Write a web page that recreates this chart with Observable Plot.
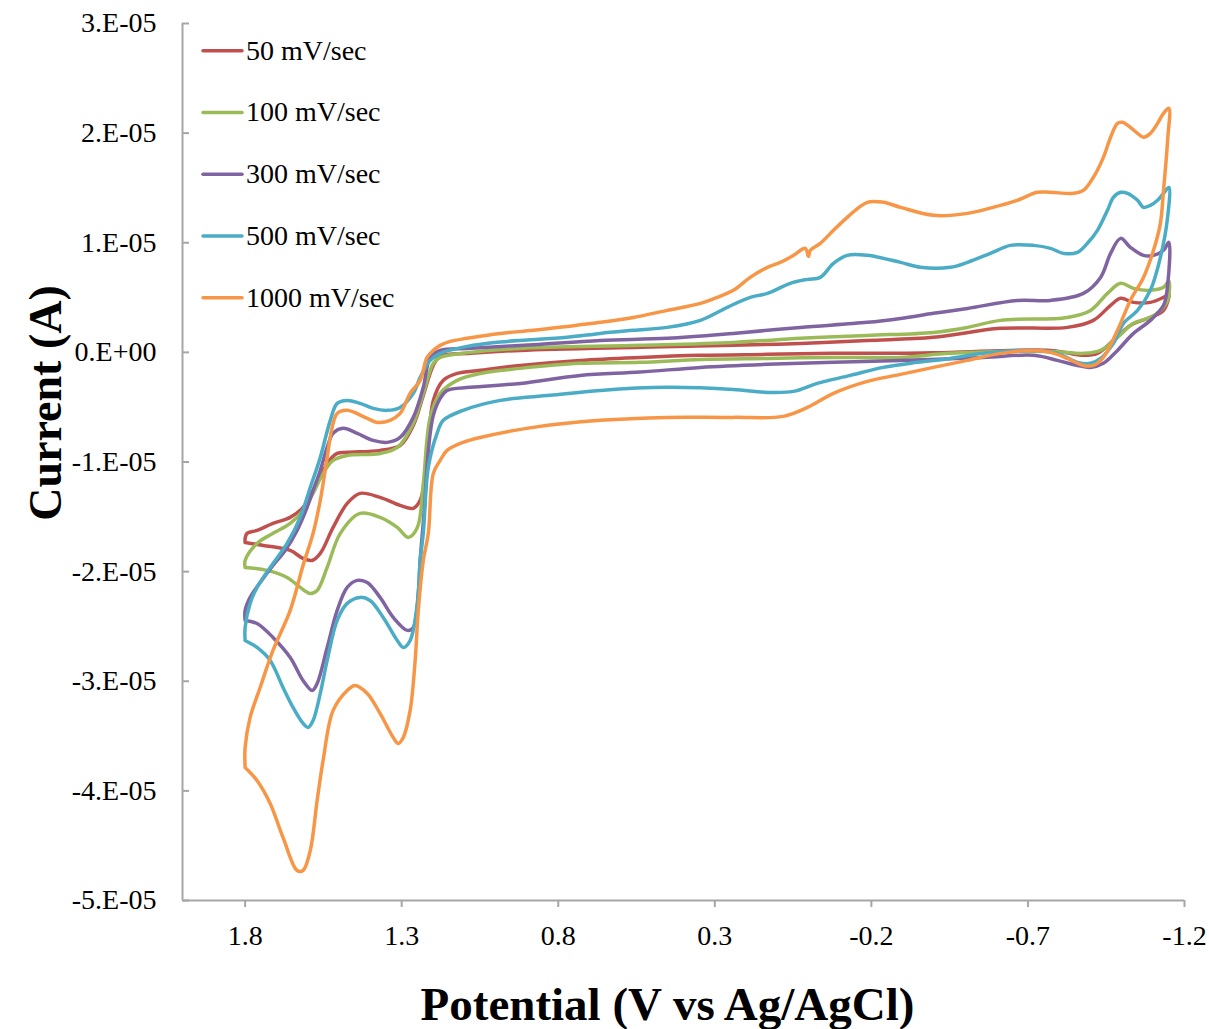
<!DOCTYPE html>
<html>
<head>
<meta charset="utf-8">
<script src="https://cdn.jsdelivr.net/npm/d3@7"></script>
<script src="https://cdn.jsdelivr.net/npm/@observablehq/plot@0.6"></script>
<style>
  body { margin: 0; background: #fff; }
  #chart svg { display: block; }
</style>
</head>
<body>
<div id="chart"></div>
<script>
// ---- Data (potential in V vs Ag/AgCl, current in µA; axis labels in A) ----
const seriesNames = ["50 mV/sec", "100 mV/sec", "300 mV/sec", "500 mV/sec", "1000 mV/sec"];
const seriesColors = ["#c0504d", "#9bbb59", "#8064a2", "#4bacc6", "#f79646"];

const xTicks = [1.8, 1.3, 0.8, 0.3, -0.2, -0.7, -1.2];
const xTickLabels = ["1.8", "1.3", "0.8", "0.3", "-0.2", "-0.7", "-1.2"];
const yTicks = [30, 20, 10, 0, -10, -20, -30, -40, -50];
const yTickLabels = ["3.E-05", "2.E-05", "1.E-05", "0.E+00", "-1.E-05", "-2.E-05", "-3.E-05", "-4.E-05", "-5.E-05"];
const xDomain = [2.0, -1.2];
const yDomain = [-50, 30];

// [potential V, current µA]
const cv50 = [
  [1.80,-17.34],[1.742,-17.61],[1.656,-18.07],[1.615,-18.80],[1.586,-18.98],[1.560,-18.34],[1.519,-15.97],
  [1.474,-13.78],[1.433,-12.86],[1.369,-13.23],[1.305,-13.96],[1.263,-14.23],[1.241,-13.50],[1.219,-9.85],
  [1.199,-4.38],[1.167,-2.55],[1.123,-1.92],[1.049,-1.64],[0.921,-1.19],[0.730,-0.73],[0.538,-0.46],
  [0.346,-0.27],[0.132,-0.18],[-0.079,-0.09],[-0.293,-0.09],[-0.452,0],[-0.772,0.18],[-0.877,-0.27],
  [-0.922,-0.09],[-0.973,1.09],[-1.027,2.46],[-1.091,3.19],[-1.133,3.83],[-1.15,5.3],
  [-1.133,5.02],[-1.091,4.56],[-1.037,4.56],[-0.996,4.93],[-0.964,4.29],[-0.909,2.92],[-0.826,2.28],
  [-0.612,2.19],[-0.398,1.37],[-0.187,1.09],[0.027,0.82],[0.241,0.64],[0.538,0.46],[0.921,0.18],
  [1.081,-0.09],[1.177,-0.36],[1.199,-1.19],[1.231,-3.92],[1.263,-6.66],[1.305,-8.49],[1.369,-8.94],
  [1.474,-9.12],[1.506,-9.22],[1.538,-10.13],[1.560,-11.41],[1.583,-12.59],[1.615,-14.14],[1.656,-15.05],
  [1.711,-15.60],[1.762,-16.24],[1.794,-16.51],[1.80,-16.97],[1.80,-17.34]
];
const cv100 = [
  [1.80,-19.62],[1.730,-19.89],[1.666,-20.53],[1.624,-21.44],[1.592,-21.99],[1.570,-21.72],[1.538,-19.62],
  [1.496,-16.51],[1.433,-14.69],[1.369,-15.05],[1.314,-15.97],[1.279,-16.88],[1.250,-15.97],[1.231,-11.95],
  [1.209,-5.93],[1.177,-3.74],[1.123,-2.55],[1.049,-1.92],[0.921,-1.46],[0.730,-1.00],[0.538,-0.91],
  [0.346,-0.64],[0.132,-0.55],[-0.079,-0.46],[-0.293,-0.46],[-0.452,-0.09],[-0.772,0.09],[-0.877,-0.09],
  [-0.932,0.18],[-0.986,1.37],[-1.037,2.65],[-1.091,3.19],[-1.123,3.83],[-1.146,4.74],[-1.15,6.5],
  [-1.133,5.93],[-1.091,5.66],[-1.037,5.84],[-0.996,6.30],[-0.954,5.38],[-0.900,3.83],[-0.826,3.19],
  [-0.612,2.92],[-0.507,2.28],[-0.398,1.82],[-0.187,1.55],[0.027,1.28],[0.241,0.91],[0.538,0.64],
  [0.921,0.36],[1.081,0],[1.177,-0.46],[1.199,-1.00],[1.231,-3.74],[1.263,-6.48],[1.314,-8.67],
  [1.369,-9.22],[1.474,-9.40],[1.519,-9.85],[1.551,-11.04],[1.583,-12.86],[1.615,-14.42],[1.656,-15.60],
  [1.711,-16.51],[1.762,-17.43],[1.80,-18.98],[1.80,-19.62]
];
const cv300 = [
  [1.80,-24.45],[1.762,-24.73],[1.711,-26.00],[1.656,-27.83],[1.615,-29.93],[1.586,-30.84],[1.570,-30.20],
  [1.538,-26.92],[1.506,-23.54],[1.474,-21.44],[1.442,-20.80],[1.410,-20.99],[1.369,-22.35],[1.327,-24.18],
  [1.282,-25.36],[1.263,-25.09],[1.247,-21.99],[1.241,-18.98],[1.228,-14.42],[1.215,-8.94],[1.199,-5.75],
  [1.177,-4.20],[1.155,-3.47],[1.081,-3.19],[0.921,-2.83],[0.730,-2.10],[0.538,-1.80],[0.346,-1.37],
  [0.132,-1.09],[-0.079,-0.91],[-0.293,-0.73],[-0.558,-0.46],[-0.718,-0.27],[-0.794,-0.73],[-0.858,-1.19],
  [-0.900,-1.37],[-0.941,-1.00],[-0.986,0.18],[-1.037,1.73],[-1.091,2.92],[-1.133,4.29],[-1.146,6.11],[-1.15,10.04],
  [-1.133,9.31],[-1.101,8.85],[-1.069,8.85],[-1.027,9.58],[-0.996,10.40],[-0.964,9.03],[-0.932,6.84],
  [-0.877,5.38],[-0.772,4.74],[-0.666,4.74],[-0.507,4.01],[-0.398,3.56],[-0.293,3.10],[-0.187,2.74],
  [0.027,2.28],[0.241,1.73],[0.452,1.28],[0.666,1.09],[0.880,0.70],[1.091,0.36],[1.177,0.18],[1.209,-0.46],
  [1.231,-3.19],[1.263,-5.93],[1.305,-7.76],[1.346,-8.21],[1.391,-8.03],[1.442,-7.39],[1.487,-6.93],
  [1.519,-7.39],[1.538,-8.67],[1.560,-10.77],[1.583,-12.59],[1.602,-14.14],[1.634,-16.24],[1.672,-18.07],
  [1.711,-19.43],[1.752,-20.99],[1.784,-22.35],[1.80,-23.54],[1.80,-24.45]
];
const cv500 = [
  [1.80,-26.28],[1.762,-26.92],[1.720,-28.10],[1.679,-30.57],[1.647,-32.39],[1.615,-33.85],[1.599,-34.21],
  [1.583,-33.58],[1.560,-31.11],[1.538,-28.10],[1.506,-24.45],[1.474,-22.90],[1.433,-22.35],[1.401,-22.63],
  [1.359,-24.18],[1.314,-26.28],[1.295,-26.92],[1.273,-26.28],[1.250,-22.90],[1.241,-18.98],[1.231,-16.51],
  [1.215,-10.49],[1.187,-7.39],[1.167,-6.20],[1.104,-5.29],[0.985,-4.38],[0.826,-3.92],[0.666,-3.47],
  [0.452,-3.19],[0.241,-3.38],[0.132,-3.65],[0.049,-3.56],[-0.027,-2.83],[-0.133,-2.10],[-0.238,-1.37],
  [-0.347,-0.91],[-0.452,-0.55],[-0.558,-0.09],[-0.718,0.18],[-0.794,-0.09],[-0.858,-0.91],[-0.900,-1.00],
  [-0.932,-0.55],[-0.973,0.82],[-1.005,2.65],[-1.050,3.83],[-1.091,5.66],[-1.123,8.67],[-1.146,12.32],[-1.15,15.05],
  [-1.133,14.51],[-1.114,13.87],[-1.091,13.41],[-1.069,13.23],[-1.050,13.87],[-1.018,14.51],[-0.996,14.60],
  [-0.973,14.14],[-0.954,12.96],[-0.922,11.13],[-0.890,9.95],[-0.858,9.12],[-0.813,9.03],[-0.772,9.49],
  [-0.718,9.76],[-0.644,9.76],[-0.580,9.03],[-0.507,8.21],[-0.452,7.76],[-0.357,7.76],[-0.293,8.21],
  [-0.187,8.85],[-0.123,8.85],[-0.079,8.12],[-0.037,6.84],[0.004,6.66],[0.059,6.30],[0.132,5.38],
  [0.187,5.02],[0.260,4.11],[0.346,2.92],[0.452,2.28],[0.560,2.01],[0.666,1.73],[0.771,1.37],[0.985,0.95],
  [1.091,0.55],[1.177,-0.09],[1.209,-0.73],[1.241,-2.28],[1.263,-3.74],[1.305,-5.02],[1.346,-5.29],
  [1.391,-5.11],[1.433,-4.65],[1.474,-4.38],[1.506,-4.65],[1.528,-6.20],[1.560,-9.58],[1.592,-12.32],
  [1.624,-15.05],[1.666,-17.43],[1.720,-19.62],[1.762,-21.44],[1.784,-22.90],[1.80,-25.09],[1.80,-26.28]
];
const cv1000 = [
  [1.80,-37.86],[1.762,-39.05],[1.720,-41.15],[1.679,-44.25],[1.634,-47.26],[1.615,-47.26],[1.592,-45.44],
  [1.570,-40.88],[1.551,-37.23],[1.519,-32.66],[1.474,-30.84],[1.449,-30.38],[1.410,-31.11],[1.369,-32.94],
  [1.327,-35.13],[1.311,-35.68],[1.295,-35.13],[1.273,-32.66],[1.257,-28.10],[1.247,-23.54],[1.231,-18.98],
  [1.215,-16.51],[1.199,-11.04],[1.177,-9.85],[1.155,-8.94],[1.104,-8.21],[1.049,-7.76],[0.880,-6.84],
  [0.666,-6.20],[0.452,-5.93],[0.241,-5.93],[0.081,-5.84],[0.004,-5.02],[-0.079,-3.74],[-0.187,-2.65],
  [-0.293,-2.01],[-0.398,-1.37],[-0.507,-0.73],[-0.612,-0.09],[-0.718,0.18],[-0.772,0],[-0.826,-0.55],
  [-0.877,-1.19],[-0.909,-1.19],[-0.941,-0.46],[-0.986,2.01],[-1.027,4.74],[-1.069,6.84],[-1.101,9.31],
  [-1.123,11.77],[-1.133,14.78],[-1.146,19.34],[-1.15,22.26],
  [-1.133,21.81],[-1.114,20.89],[-1.091,19.98],[-1.069,19.62],[-1.050,19.98],[-1.027,20.53],[-1.002,20.99],
  [-0.986,20.89],[-0.964,19.62],[-0.941,17.79],[-0.909,15.97],[-0.877,14.78],[-0.845,14.51],[-0.772,14.60],
  [-0.730,14.60],[-0.666,13.87],[-0.612,13.41],[-0.507,12.68],[-0.398,12.50],[-0.293,13.23],[-0.238,13.69],
  [-0.187,13.69],[-0.123,12.32],[-0.079,11.13],[-0.037,9.95],[-0.005,9.31],[0.001,8.76],[0.011,9.49],
  [0.049,8.85],[0.091,8.21],[0.132,7.76],[0.187,6.84],[0.241,5.66],[0.292,5.02],[0.346,4.47],[0.452,3.83],
  [0.560,3.19],[0.666,2.74],[0.771,2.37],[0.880,2.01],[0.985,1.73],[1.091,1.28],[1.145,1.00],[1.177,0.64],
  [1.199,0.18],[1.219,-0.46],[1.241,-2.55],[1.273,-3.74],[1.305,-5.57],[1.337,-6.20],[1.378,-6.39],
  [1.410,-6.02],[1.474,-5.29],[1.506,-5.57],[1.522,-6.84],[1.538,-9.58],[1.560,-13.50],[1.583,-16.51],
  [1.615,-19.43],[1.656,-23.54],[1.711,-27.19],[1.752,-30.57],[1.784,-33.30],[1.80,-36.04],[1.80,-37.86]
];

const seriesData = [cv50, cv100, cv300, cv500, cv1000];
const rows = seriesData.flatMap((pts, s) => pts.map(([v, i]) => ({series: seriesNames[s], v, i})));

const axisGray = "#a6a6a6";
const font = "'Liberation Serif', 'Times New Roman', serif";

const chart = Plot.plot({
  width: 1209,
  height: 1029,
  marginLeft: 182,
  marginRight: 25,
  marginTop: 23,
  marginBottom: 129,
  style: {fontFamily: font, fontSize: "28px", background: "white", color: "black", overflow: "visible"},
  x: {domain: xDomain},
  y: {domain: yDomain},
  color: {domain: seriesNames, range: seriesColors},
  marks: [
    Plot.ruleX([xDomain[0]], {stroke: axisGray, strokeWidth: 2}),
    Plot.ruleY([yDomain[0]], {stroke: axisGray, strokeWidth: 2}),
    Plot.axisX(xTicks, {tickSize: 7, tickPadding: 18, stroke: axisGray, strokeWidth: 2, fill: "black", fontSize: 28,
      tickFormat: d => xTickLabels[xTicks.indexOf(d)], label: null}),
    Plot.axisY(yTicks, {tickSize: 0, tickPadding: 26, fill: "black", fontSize: 28,
      tickFormat: d => yTickLabels[yTicks.indexOf(d)], label: null}),
    Plot.axisY(yTicks, {tickSize: -7, stroke: axisGray, strokeWidth: 2, fill: "none", label: null}),
    Plot.line(rows, {x: "v", y: "i", z: "series", stroke: "series", strokeWidth: 3.5, curve: "catmull-rom"}),
    Plot.text(["Potential (V vs Ag/AgCl)"], {frameAnchor: "bottom", textAnchor: "middle", dx: -16, dy: 104,
      lineAnchor: "middle", fontSize: 47, fontWeight: "bold", fill: "black"}),
    Plot.text(["Current (A)"], {frameAnchor: "left", textAnchor: "middle", rotate: -90, dx: -136, dy: -59,
      lineAnchor: "middle", fontSize: 46, fontWeight: "bold", fill: "black"})
  ]
});

// Legend (top-left, inside the plot area)
const svg = d3.select(chart);
const legend = svg.append("g").attr("font-family", font).attr("font-size", 28).attr("text-anchor", "start");
seriesNames.forEach((name, k) => {
  const y = 50.7 + k * 61.75;
  legend.append("line").attr("x1", 203).attr("x2", 242).attr("y1", y).attr("y2", y)
    .attr("stroke", seriesColors[k]).attr("stroke-width", 3.5).attr("stroke-linecap", "round");
  legend.append("text").attr("x", 246).attr("y", y).attr("dy", "0.32em").attr("fill", "black")
    .attr("text-anchor", "start").text(name);
});

document.getElementById("chart").append(chart);
</script>
</body>
</html>
